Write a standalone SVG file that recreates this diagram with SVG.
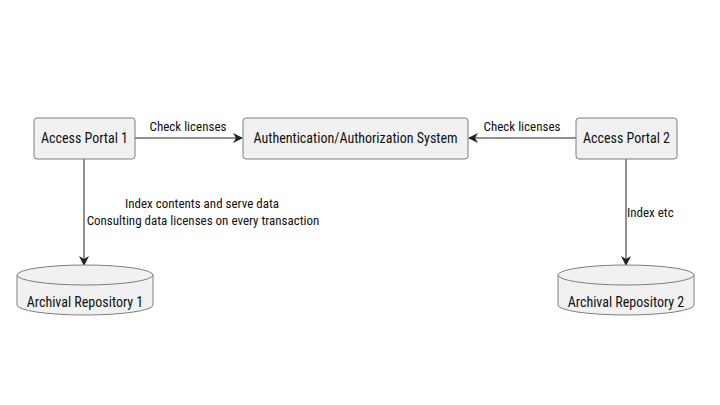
<svg xmlns="http://www.w3.org/2000/svg" width="720" height="405" viewBox="0 0 720 405">
<style>
.box{fill:#f1f1f1;stroke:#7f7f7f;stroke-width:1}
.t{font-family:"Liberation Sans Narrow","Roboto Condensed","Liberation Sans",sans-serif;font-size:14px;fill:#111;font-stretch:condensed}
.l{font-family:"Liberation Sans Narrow","Roboto Condensed","Liberation Sans",sans-serif;font-size:13px;fill:#111;font-stretch:condensed}
.e{stroke:#222;stroke-width:1;fill:none}
</style>
<defs>
<marker id="ah" viewBox="0 0 10 10" refX="9" refY="5" markerWidth="10" markerHeight="10" markerUnits="userSpaceOnUse" orient="auto">
<path d="M0,0 L10,5 L0,10 L3,5 Z" fill="#222"/>
</marker>
</defs>
<rect width="720" height="405" fill="#fff"/>
<g id="edges">
<line class="e" x1="135" y1="138" x2="242" y2="138" marker-end="url(#ah)"/>
<text class="l" x="188" y="131" text-anchor="middle">Check licenses</text>
<line class="e" x1="576" y1="138" x2="469" y2="138" marker-end="url(#ah)"/>
<text class="l" x="522" y="131" text-anchor="middle">Check licenses</text>
<line class="e" x1="84" y1="159" x2="84" y2="265" marker-end="url(#ah)"/>
<text class="l" x="202" y="208" text-anchor="middle">Index contents and serve data</text>
<text class="l" x="203" y="225" text-anchor="middle">Consulting data licenses on every transaction</text>
<line class="e" x1="626" y1="159" x2="626" y2="265" marker-end="url(#ah)"/>
<text class="l" x="627" y="217">Index etc</text>
</g>
<g id="ap1">
<rect class="box" x="34" y="118" width="101" height="41" rx="3"/>
<text class="t" x="84.5" y="143" text-anchor="middle">Access Portal 1</text>
</g>
<g id="auth">
<rect class="box" x="243" y="118" width="225" height="41" rx="3"/>
<text class="t" x="355.5" y="143" text-anchor="middle">Authentication/Authorization System</text>
</g>
<g id="ap2">
<rect class="box" x="576" y="118" width="101" height="41" rx="3"/>
<text class="t" x="626.5" y="143" text-anchor="middle">Access Portal 2</text>
</g>
<g id="repo1">
<path class="box" d="M17,275 A68,10 0 0 1 153,275 L153,305 A68,10 0 0 1 17,305 Z"/>
<path class="box" d="M17,275 A68,10 0 0 0 153,275" fill="none"/>
<text class="t" x="85" y="307" text-anchor="middle">Archival Repository 1</text>
</g>
<g id="repo2">
<path class="box" d="M558,275 A68,10 0 0 1 694,275 L694,305 A68,10 0 0 1 558,305 Z"/>
<path class="box" d="M558,275 A68,10 0 0 0 694,275" fill="none"/>
<text class="t" x="626" y="307" text-anchor="middle">Archival Repository 2</text>
</g>
</svg>
